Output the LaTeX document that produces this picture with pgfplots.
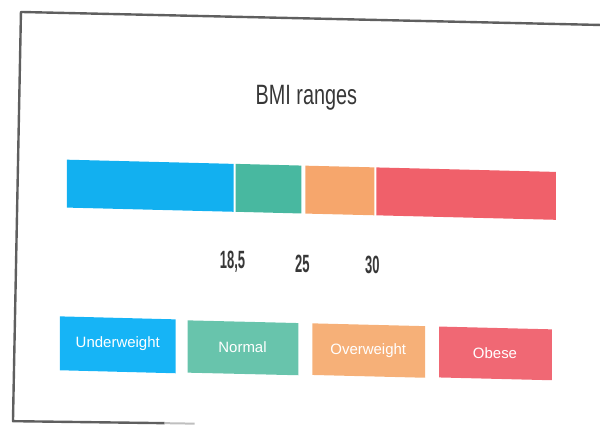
\documentclass[border=0pt]{standalone}
\usepackage{pgfplots}
\pgfplotsset{compat=1.18}
\usepackage{fontspec}
\setmainfont{Liberation Sans}
\newfontfamily\titlefont[FakeStretch=0.71]{Liberation Sans}
\newfontfamily\numfont[FakeStretch=0.52]{Liberation Sans}
\definecolor{cUnder}{RGB}{18,176,240}
\definecolor{cNormal}{RGB}{72,184,160}
\definecolor{cOver}{RGB}{246,166,108}
\definecolor{cObese}{RGB}{240,96,106}
\definecolor{bUnder}{RGB}{22,180,246}
\definecolor{bNormal}{RGB}{104,196,172}
\definecolor{bOver}{RGB}{246,176,120}
\definecolor{bObese}{RGB}{240,104,116}
\definecolor{frame}{RGB}{95,95,95}
\definecolor{txt}{RGB}{55,55,55}
\begin{document}
\begin{tikzpicture}
\begin{axis}[
  x=1pt, y=1pt, y dir=reverse,
  xmin=0, xmax=601, ymin=0, ymax=426,
  scale only axis, hide axis, clip=false,
]
% canvas extent
\addplot[draw=none] coordinates {(0,0) (601,426)};
% scanned frame
\addplot[frame, line width=2.4pt, line join=round] coordinates {(601,25) (21,12) (13,422) (165,424)};
\addplot[frame!40, line width=2pt] coordinates {(165,424) (195,424.5)};
% BMI range bar (segments, slightly tilted as in the scan)
\addplot[fill=cUnder, draw=none] coordinates {(67,160) (234,164.2) (234,212.2) (67,208)} -- cycle;
\addplot[fill=cNormal, draw=none] coordinates {(236,164.2) (302,165.9) (302,213.9) (236,212.2)} -- cycle;
\addplot[fill=cOver, draw=none] coordinates {(306,166.0) (375,167.7) (375,215.7) (306,214.0)} -- cycle;
\addplot[fill=cObese, draw=none] coordinates {(377,167.75) (557,172.25) (557,220.25) (377,215.75)} -- cycle;
% legend buttons
\addplot[fill=bUnder, draw=none] coordinates {(60,317) (176,320) (176,374) (60,371)} -- cycle;
\addplot[fill=bNormal, draw=none] coordinates {(188,321) (299,323.7) (299,376) (188,373.4)} -- cycle;
\addplot[fill=bOver, draw=none] coordinates {(313,324) (426,326.8) (426,378.5) (313,375.7)} -- cycle;
\addplot[fill=bObese, draw=none] coordinates {(440,327.2) (553,330) (553,381) (440,378.2)} -- cycle;
% texts
\node[text=txt, font=\titlefont\fontsize{28}{30}\selectfont] at (axis cs:307,98) {BMI ranges};
\node[text=txt, font=\numfont\bfseries\fontsize{25}{27}\selectfont] at (axis cs:233,262) {18,5};
\node[text=txt, font=\numfont\bfseries\fontsize{25}{27}\selectfont] at (axis cs:303,264) {25};
\node[text=txt, font=\numfont\bfseries\fontsize{25}{27}\selectfont] at (axis cs:373,265) {30};
\node[text=white, font=\fontsize{15}{17}\selectfont] at (axis cs:118,344) {Underweight};
\node[text=white, font=\fontsize{15}{17}\selectfont] at (axis cs:243,348) {Normal};
\node[text=white, font=\fontsize{15}{17}\selectfont] at (axis cs:369,351) {Overweight};
\node[text=white, font=\fontsize{15}{17}\selectfont] at (axis cs:496,354) {Obese};
\end{axis}
\end{tikzpicture}
\end{document}
